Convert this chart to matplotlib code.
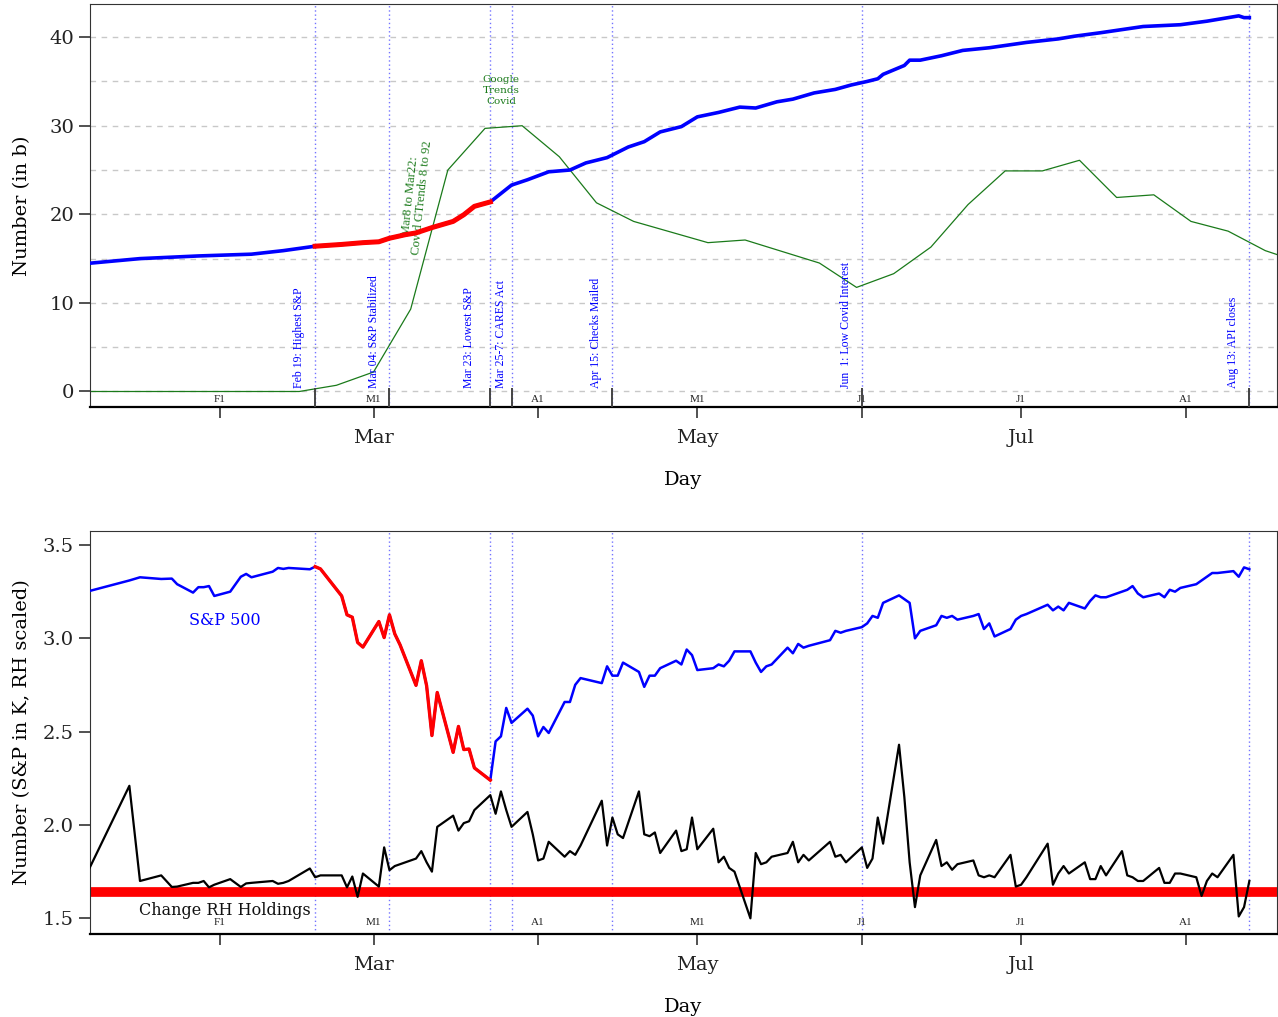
import numpy as np
import matplotlib
matplotlib.use("Agg")
from matplotlib import pyplot as plt
from matplotlib import transforms
from datetime import datetime

plt.rcParams['font.family'] = ['DejaVu Serif']

# --- données du haut : encours (en milliards) ---
encours_dates = ["2020-01-07", "2020-01-17", "2020-01-28", "2020-02-07", "2020-02-13",
                 "2020-02-19", "2020-02-24", "2020-02-28", "2020-03-02", "2020-03-04",
                 "2020-03-07", "2020-03-09", "2020-03-12", "2020-03-16", "2020-03-18",
                 "2020-03-20", "2020-03-23", "2020-03-27", "2020-03-30", "2020-04-03",
                 "2020-04-07", "2020-04-10", "2020-04-14", "2020-04-18", "2020-04-21",
                 "2020-04-24", "2020-04-28", "2020-05-01", "2020-05-05", "2020-05-09",
                 "2020-05-12", "2020-05-16", "2020-05-19", "2020-05-23", "2020-05-27",
                 "2020-05-30", "2020-06-02", "2020-06-04", "2020-06-05", "2020-06-09",
                 "2020-06-10", "2020-06-12", "2020-06-16", "2020-06-20", "2020-06-25",
                 "2020-07-02", "2020-07-08", "2020-07-11", "2020-07-16", "2020-07-24",
                 "2020-07-31", "2020-08-05", "2020-08-11", "2020-08-12", "2020-08-13"]
encours = [14.45, 15.0, 15.3, 15.5, 15.9,
           16.4, 16.6, 16.8, 16.9, 17.3,
           17.7, 17.9, 18.5, 19.2, 19.95,
           20.9, 21.4, 23.3, 23.9, 24.8,
           25.0, 25.8, 26.4, 27.6, 28.2,
           29.3, 29.9, 31.0, 31.5, 32.1,
           32.0, 32.7, 33.0, 33.7, 34.1,
           34.6, 35.0, 35.3, 35.8, 36.8,
           37.4, 37.4, 37.9, 38.5, 38.8,
           39.4, 39.8, 40.1, 40.5, 41.2,
           41.4, 41.8, 42.4, 42.2, 42.2]

# Google Trends "Covid" (hebdomadaire, remis à l'échelle)
gtrends_dates = ["2020-01-05", "2020-01-12", "2020-01-19", "2020-01-26", "2020-02-02",
                 "2020-02-09", "2020-02-16", "2020-02-19", "2020-02-23", "2020-03-01",
                 "2020-03-08", "2020-03-15", "2020-03-22", "2020-03-29", "2020-04-05",
                 "2020-04-12", "2020-04-19", "2020-04-26", "2020-05-03", "2020-05-10",
                 "2020-05-17", "2020-05-24", "2020-05-31", "2020-06-07", "2020-06-14",
                 "2020-06-21", "2020-06-28", "2020-07-05", "2020-07-12", "2020-07-19",
                 "2020-07-26", "2020-08-02", "2020-08-09", "2020-08-16", "2020-08-23"]
gtrends = [0, 0, 0, 0, 0,
           0, 0, 0.3, 0.7, 2.2,
           9.3, 25.0, 29.7, 30.0, 26.5,
           21.3, 19.2, 18.0, 16.8, 17.1,
           15.8, 14.5, 11.75, 13.3, 16.3,
           21.1, 24.9, 24.9, 26.1, 21.9,
           22.2, 19.2, 18.1, 15.9, 14.5]

# --- données du bas : S&P 500 (en milliers) et variation RH ---
sp_dates = ["2020-01-07", "2020-01-15", "2020-01-17", "2020-01-21", "2020-01-23",
            "2020-01-24", "2020-01-27", "2020-01-28", "2020-01-29", "2020-01-30",
            "2020-01-31", "2020-02-03", "2020-02-05", "2020-02-06", "2020-02-07",
            "2020-02-11", "2020-02-12", "2020-02-13", "2020-02-14", "2020-02-18",
            "2020-02-19", "2020-02-20", "2020-02-24", "2020-02-25", "2020-02-26",
            "2020-02-27", "2020-02-28", "2020-03-02", "2020-03-03", "2020-03-04",
            "2020-03-05", "2020-03-06", "2020-03-09", "2020-03-10", "2020-03-11",
            "2020-03-12", "2020-03-13", "2020-03-16", "2020-03-17", "2020-03-18",
            "2020-03-19", "2020-03-20", "2020-03-23", "2020-03-24", "2020-03-25",
            "2020-03-26", "2020-03-27", "2020-03-30", "2020-03-31", "2020-04-01",
            "2020-04-02", "2020-04-03", "2020-04-06", "2020-04-07", "2020-04-08",
            "2020-04-09", "2020-04-13", "2020-04-14", "2020-04-15", "2020-04-16",
            "2020-04-17", "2020-04-20", "2020-04-21", "2020-04-22", "2020-04-23",
            "2020-04-24", "2020-04-27", "2020-04-28", "2020-04-29", "2020-04-30",
            "2020-05-01", "2020-05-04", "2020-05-05", "2020-05-06", "2020-05-07",
            "2020-05-08", "2020-05-11", "2020-05-12", "2020-05-13", "2020-05-14",
            "2020-05-15", "2020-05-18", "2020-05-19", "2020-05-20", "2020-05-21",
            "2020-05-22", "2020-05-26", "2020-05-27", "2020-05-28", "2020-05-29",
            "2020-06-01", "2020-06-02", "2020-06-03", "2020-06-04", "2020-06-05",
            "2020-06-08", "2020-06-09", "2020-06-10", "2020-06-11", "2020-06-12",
            "2020-06-15", "2020-06-16", "2020-06-17", "2020-06-18", "2020-06-19",
            "2020-06-22", "2020-06-23", "2020-06-24", "2020-06-25", "2020-06-26",
            "2020-06-29", "2020-06-30", "2020-07-01", "2020-07-02", "2020-07-06",
            "2020-07-07", "2020-07-08", "2020-07-09", "2020-07-10", "2020-07-13",
            "2020-07-14", "2020-07-15", "2020-07-16", "2020-07-17", "2020-07-20",
            "2020-07-21", "2020-07-22", "2020-07-23", "2020-07-24", "2020-07-27",
            "2020-07-28", "2020-07-29", "2020-07-30", "2020-07-31", "2020-08-03",
            "2020-08-04", "2020-08-05", "2020-08-06", "2020-08-07", "2020-08-10",
            "2020-08-11", "2020-08-12", "2020-08-13"]
sp500 = [3.25, 3.31, 3.327, 3.318, 3.32,
         3.29, 3.245, 3.274, 3.274, 3.28,
         3.227, 3.25, 3.33, 3.345, 3.327,
         3.357, 3.377, 3.372, 3.377, 3.37,
         3.384, 3.372, 3.227, 3.126, 3.113,
         2.978, 2.953, 3.09, 3.004, 3.126,
         3.024, 2.965, 2.748, 2.88, 2.746,
         2.479, 2.71, 2.389, 2.528, 2.404,
         2.407, 2.306, 2.24, 2.448, 2.475,
         2.627, 2.547, 2.623, 2.586, 2.475,
         2.525, 2.493, 2.659, 2.659, 2.751,
         2.787, 2.76, 2.85, 2.80, 2.80,
         2.87, 2.82, 2.74, 2.80, 2.80,
         2.84, 2.88, 2.86, 2.94, 2.91,
         2.83, 2.84, 2.86, 2.85, 2.88,
         2.93, 2.93, 2.87, 2.82, 2.85,
         2.86, 2.95, 2.92, 2.97, 2.95,
         2.96, 2.99, 3.04, 3.03, 3.04,
         3.06, 3.08, 3.12, 3.11, 3.19,
         3.23, 3.21, 3.19, 3.00, 3.04,
         3.07, 3.12, 3.11, 3.12, 3.10,
         3.12, 3.13, 3.05, 3.08, 3.01,
         3.05, 3.10, 3.12, 3.13, 3.18,
         3.15, 3.17, 3.15, 3.19, 3.16,
         3.20, 3.23, 3.22, 3.22, 3.25,
         3.26, 3.28, 3.24, 3.22, 3.24,
         3.22, 3.26, 3.25, 3.27, 3.29,
         3.31, 3.33, 3.35, 3.35, 3.36,
         3.33, 3.38, 3.37]

rh_change = [1.74, 2.21, 1.70, 1.73, 1.668,
             1.67, 1.69, 1.69, 1.70, 1.666,
             1.68, 1.71, 1.668, 1.687, 1.69,
             1.70, 1.685, 1.69, 1.70, 1.767,
             1.72, 1.73, 1.73, 1.666, 1.724,
             1.615, 1.74, 1.67, 1.88, 1.758,
             1.78, 1.79, 1.82, 1.86, 1.80,
             1.75, 1.99, 2.05, 1.97, 2.01,
             2.02, 2.08, 2.16, 2.06, 2.18,
             2.08, 1.99, 2.07, 1.95, 1.81,
             1.82, 1.91, 1.83, 1.86, 1.84,
             1.89, 2.13, 1.89, 2.04, 1.95,
             1.93, 2.18, 1.95, 1.94, 1.96,
             1.85, 1.97, 1.86, 1.87, 2.04,
             1.87, 1.98, 1.80, 1.83, 1.77,
             1.75, 1.50, 1.85, 1.79, 1.80,
             1.83, 1.85, 1.91, 1.80, 1.84,
             1.81, 1.91, 1.83, 1.84, 1.80,
             1.88, 1.77, 1.82, 2.04, 1.90,
             2.43, 2.15, 1.80, 1.56, 1.73,
             1.92, 1.78, 1.80, 1.76, 1.79,
             1.81, 1.73, 1.72, 1.73, 1.72,
             1.84, 1.67, 1.68, 1.72, 1.90,
             1.68, 1.74, 1.78, 1.74, 1.80,
             1.71, 1.71, 1.78, 1.73, 1.86,
             1.73, 1.72, 1.70, 1.70, 1.77,
             1.69, 1.69, 1.74, 1.74, 1.72,
             1.62, 1.70, 1.74, 1.72, 1.84,
             1.51, 1.56, 1.70]

rh_baseline = 1.64

# événements marqués par des lignes verticales
event_dates = ["2020-02-19", "2020-03-04", "2020-03-23", "2020-03-27",
               "2020-04-15", "2020-06-01", "2020-08-13"]
event_labels = ["Feb 19: Highest S&P", "Mar 04: S&P Stabilized", "Mar 23: Lowest S&P",
                "Mar 25-7: CARES Act", "Apr 15: Checks Mailed",
                "Jun  1: Low Covid Interest", "Aug 13: API closes"]
# décalage (en jours) du texte à gauche de la ligne
event_shift = [3, 3, 4, 2, 3, 3, 3]

month_starts = ["2020-02-01", "2020-03-01", "2020-04-01", "2020-05-01",
                "2020-06-01", "2020-07-01", "2020-08-01"]
month_short = ["F1", "M1", "A1", "M1", "J1", "J1", "A1"]
month_names = ["", "Mar", "", "May", "", "Jul", ""]

crash_start, crash_end = np.datetime64("2020-02-19"), np.datetime64("2020-03-23")

d_enc = np.array(encours_dates, dtype="datetime64[D]")
v_enc = np.array(encours)
d_gt = np.array(gtrends_dates, dtype="datetime64[D]")
d_sp = np.array(sp_dates, dtype="datetime64[D]")
v_sp = np.array(sp500)
d_ev = np.array(event_dates, dtype="datetime64[D]")
d_month = np.array(month_starts, dtype="datetime64[D]")

x_lim = (datetime(2020, 1, 7, 14), datetime(2020, 8, 18, 5))
ev_color = (0.45, 0.45, 1.0)


def habillage(ax, ylab, y_small):
    ax.set_xlim(*x_lim)
    for d in d_ev:
        ax.axvline(d, color=ev_color, lw=1, ls=(0, (1, 2)), zorder=1)
    ax.set_xticks(d_month)
    ax.set_xticklabels(month_names)
    ax.tick_params(axis="both", direction="out", length=8, width=1.1, labelsize=14,
                   colors="#222222")
    ax.tick_params(axis="x", pad=8)
    for d, s in zip(d_month, month_short):
        ax.text(d, y_small, s, ha="center", va="center", fontsize=8,
                family="Liberation Serif", color="#222222")
    ax.set_xlabel("Day", fontsize=14, labelpad=17)
    ax.set_ylabel(ylab, fontsize=14)
    ax.yaxis.set_label_coords(-0.050, 0.5)
    for s in ax.spines.values():
        s.set_color("#333333")
        s.set_linewidth(0.8)
    ax.spines["bottom"].set_color("black")
    ax.spines["bottom"].set_linewidth(1.6)


fig = plt.figure(figsize=(12.78, 10.17), dpi=100)
ax1 = fig.add_axes([90 / 1278, 1 - 407 / 1017, 1187 / 1278, 403 / 1017])
ax2 = fig.add_axes([90 / 1278, 1 - 934 / 1017, 1187 / 1278, 403 / 1017])

# ---- panneau du haut ----
ax1.set_ylim(-1.75, 43.74)
ax1.set_yticks([0, 10, 20, 30, 40])
for g in range(0, 45, 5):
    ax1.axhline(g, color="#c8c8c8", lw=1, ls=(0, (4, 4)), zorder=0)
habillage(ax1, "Number (in b)", -0.95)

ax1.plot(d_gt, gtrends, color="#1a7a1a", lw=0.9, zorder=2)
ax1.plot(d_enc, v_enc, color="blue", lw=2.6, zorder=3)
m = (d_enc >= crash_start) & (d_enc <= crash_end)
ax1.plot(d_enc[m], v_enc[m], color="red", lw=3.6, zorder=4)

# petits traits vers l'intérieur sur les dates d'événements
tr = transforms.blended_transform_factory(ax1.transData, ax1.transAxes)
ax1.vlines(d_ev, 0, 0.047, color="#444444", lw=1.4, transform=tr, zorder=5)

for d, lab, k in zip(d_ev, event_labels, event_shift):
    ax1.text(d - np.timedelta64(k, "D"), 0.45, lab, rotation=90, ha="center",
             va="bottom", fontsize=8.5, family="Liberation Serif", color="blue")

ax1.text(np.datetime64("2020-03-09"), 22.0, "Mar8 to Mar22:\nCovid GTrends 8 to 92",
         rotation=84, ha="center", va="center", fontsize=9, family="Liberation Serif",
         color="#1a7a1a", linespacing=1.0)
ax1.text(np.datetime64("2020-03-25"), 34.0, "Google\nTrends\nCovid", ha="center",
         va="center", fontsize=7.5, color="#1a7a1a", linespacing=1.25)

# ---- panneau du bas ----
ax2.set_ylim(1.416, 3.575)
ax2.set_yticks([1.5, 2.0, 2.5, 3.0, 3.5])
ax2.set_yticklabels(["1.5", "2.0", "2.5", "3.0", "3.5"])
habillage(ax2, "Number (S&P in K, RH scaled)", 1.475)

ax2.axhline(rh_baseline, color="red", lw=7, zorder=2)
ax2.plot(d_sp, rh_change, color="black", lw=1.6, zorder=3)
ax2.plot(d_sp, v_sp, color="blue", lw=1.8, zorder=3)
m2 = (d_sp >= crash_start) & (d_sp <= crash_end)
ax2.plot(d_sp[m2], v_sp[m2], color="red", lw=2.4, zorder=4)

ax2.text(np.datetime64("2020-02-02"), 3.098, "S&P 500", ha="center", va="center",
         fontsize=11.5, color="blue")
ax2.text(np.datetime64("2020-02-02"), 1.54, "Change RH Holdings", ha="center",
         va="center", fontsize=11.5, color="#111111")

fig.savefig("out.png", dpi=100)
